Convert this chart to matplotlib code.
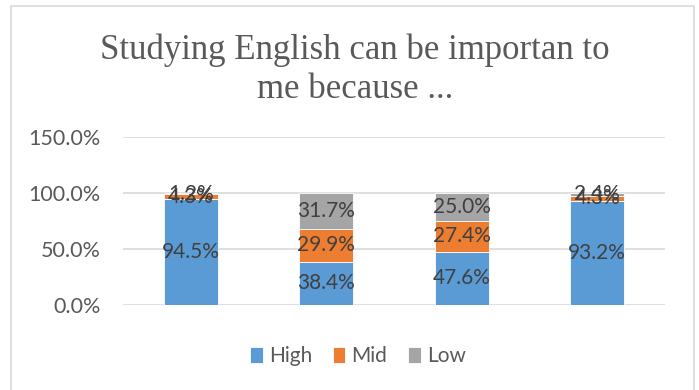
import numpy as np
import matplotlib.pyplot as plt
from matplotlib.patches import Rectangle

categories = ['1', '2', '3', '4']
high = [94.5, 38.4, 47.6, 93.2]
mid = [4.3, 29.9, 27.4, 4.3]
low = [1.2, 31.7, 25.0, 2.4]

colors = {'High': '#5b9bd5', 'Mid': '#ed7d31', 'Low': '#a5a5a5'}
label_color = '#404040'
tick_color = '#595959'

fig = plt.figure(figsize=(6.99, 3.90), dpi=100)

# outer chart frame
fig.patches.append(Rectangle((11/699, -0.02), 683/699, 1 - 6/390 + 0.02,
                             transform=fig.transFigure, fill=False,
                             edgecolor='#d9d9d9', linewidth=1.2))

ax = fig.add_axes([123/699, 1 - 305/390, 542/699, 168/390])

x = np.arange(len(categories))
w = 0.4
bottom = np.zeros(len(categories))
for name, vals in [('High', high), ('Mid', mid), ('Low', low)]:
    vals = np.array(vals)
    ax.bar(x, vals, w, bottom=bottom, color=colors[name], label=name,
           edgecolor='white', linewidth=0.6, zorder=3)
    for xi, b, v in zip(x, bottom, vals):
        ax.text(xi, b + v / 2, f'{v:.1f}%', ha='center', va='center',
                fontsize=15, color=label_color, family='Lato', zorder=4)
    bottom += vals

ax.set_xlim(-0.5, 3.5)
ax.set_ylim(0, 150)
ax.set_yticks([0, 50, 100, 150])
ax.set_yticklabels([f'{t:.1f}%' for t in [0, 50, 100, 150]])
ax.set_xticks([])
ax.grid(axis='y', color='#d9d9d9', linewidth=1.2, zorder=0)
for s in ax.spines.values():
    s.set_visible(False)
ax.tick_params(axis='y', length=0, pad=16, labelsize=15.5, labelcolor=tick_color)
for lab in ax.get_yticklabels():
    lab.set_family('Lato')

fig.text(355/699, 1 - 50/390, 'Studying English can be importan to',
         ha='center', va='center', fontsize=25, family='Liberation Serif',
         color='#595959')
fig.text(355/699, 1 - 90/390, 'me because ...',
         ha='center', va='center', fontsize=25, family='Liberation Serif',
         color='#595959')

fig.legend(loc='center', bbox_to_anchor=(358/699, 1 - 356/390), ncol=3,
           frameon=False, handlelength=0.6, handleheight=0.8,
           handletextpad=0.3, columnspacing=1.0,
           prop={'family': 'Lato', 'size': 15}, labelcolor=tick_color)

fig.savefig('out.png', dpi=100)
